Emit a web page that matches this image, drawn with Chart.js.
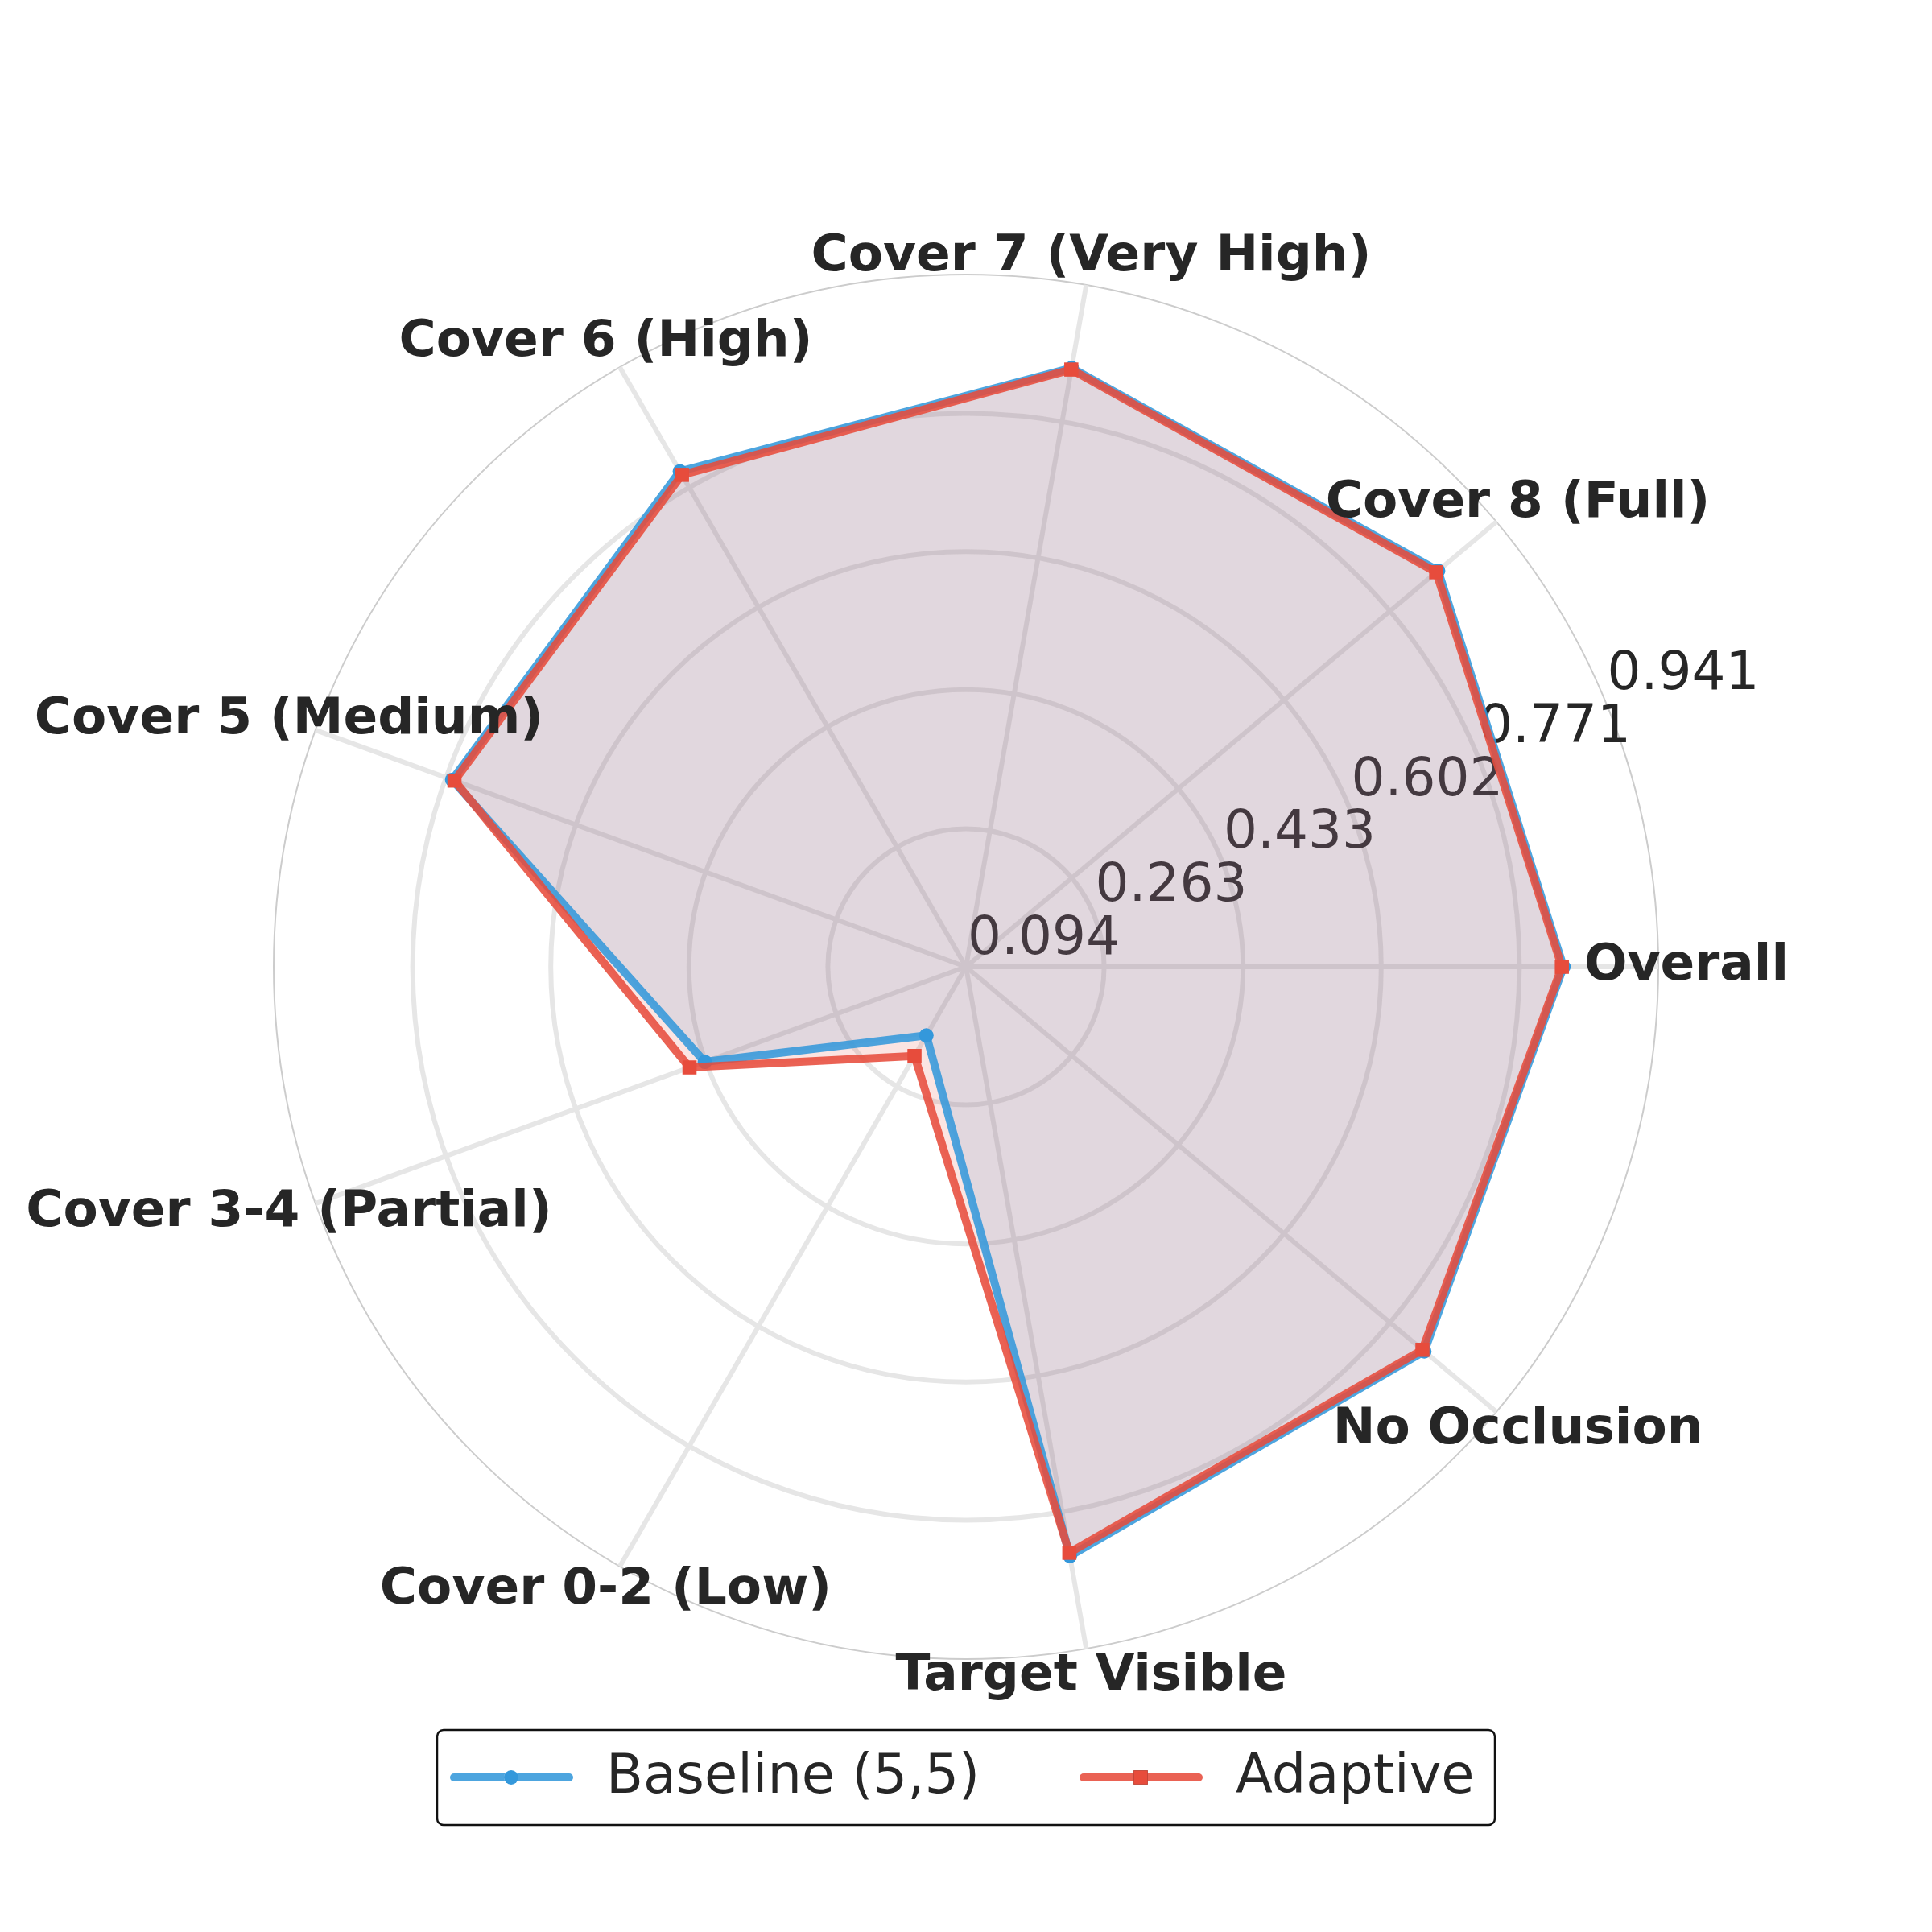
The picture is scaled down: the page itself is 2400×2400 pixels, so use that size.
<!DOCTYPE html>
<html>
<head>
<meta charset="utf-8">
<script src="https://cdn.jsdelivr.net/npm/chart.js@4.4.0/dist/chart.umd.min.js"></script>
<style>
  html, body { margin: 0; padding: 0; background: #fff; }
  canvas { display: block; }
</style>
</head>
<body>
<canvas id="radar" width="2400" height="2400"></canvas>
<script>
// categories listed clockwise starting at the right (3 o'clock)
const categories = ['Overall', 'No Occlusion', 'Target Visible', 'Cover 0-2 (Low)', 'Cover 3-4 (Partial)',
                    'Cover 5 (Medium)', 'Cover 6 (High)', 'Cover 7 (Very High)', 'Cover 8 (Full)'];
const baselineScores = [0.825, 0.826, 0.826, 0.191, 0.434, 0.763, 0.794, 0.838, 0.848];
const adaptiveScores = [0.823, 0.823, 0.822, 0.220, 0.454, 0.760, 0.789, 0.836, 0.845];
const tickValues = [0.094, 0.263, 0.433, 0.602, 0.771, 0.941];
const seriesNames = ['Baseline (5,5)', 'Adaptive'];

const FONT = "'DejaVu Sans', sans-serif";
const TEXT = '#262626';
const GRID = '#e6e6e6';

// radial tick labels along the 22.5 deg direction, drawn before the fills
const rTickLabels = {
    id: 'rTickLabels',
    beforeDatasetsDraw(chart) {
        const scale = chart.scales.r;
        const ctx = chart.ctx;
        const a = 22.5 * Math.PI / 180;
        ctx.save();
        ctx.font = `66px ${FONT}`;
        ctx.fillStyle = TEXT;
        ctx.textAlign = 'left';
        ctx.textBaseline = 'alphabetic';
        tickValues.forEach(v => {
            const d = scale.getDistanceFromCenterForValue(v);
            ctx.fillText(v.toFixed(3), scale.xCenter + d * Math.cos(a) + 2, scale.yCenter - d * Math.sin(a) - 16);
        });
        ctx.restore();
    }
};

// put the tick labels ahead of the filler so the fills tint them
const filler = Chart.registry.plugins.get('filler');
Chart.unregister(filler);
Chart.register(rTickLabels, filler);

// bold category labels sitting just over the outer ring
const categoryLabels = {
    id: 'categoryLabels',
    afterDatasetsDraw(chart) {
        const scale = chart.scales.r;
        const ctx = chart.ctx;
        ctx.save();
        ctx.font = `bold 63px ${FONT}`;
        ctx.fillStyle = TEXT;
        ctx.textAlign = 'center';
        ctx.textBaseline = 'middle';
        categories.forEach((c, i) => {
            const p = scale.getPointPosition(i, scale.drawingArea + 35);
            ctx.fillText(c, p.x, p.y);
        });
        ctx.restore();
    }
};

// matplotlib-like framed legend below the chart
const lineLegend = {
    id: 'lineLegend',
    afterDraw(chart) {
        const ctx = chart.ctx;
        const w = 1314, h = 118;
        const x = chart.width / 2 - w / 2, y = 2149;
        ctx.save();
        ctx.lineWidth = 2.5;
        ctx.strokeStyle = '#111';
        ctx.fillStyle = 'rgba(255,255,255,0.8)';
        ctx.beginPath();
        ctx.roundRect(x, y, w, h, 8);
        ctx.fill();
        ctx.stroke();

        const cy = y + h / 2;
        const starts = [x + 21, x + 803];
        chart.data.datasets.forEach((ds, i) => {
            const x0 = starts[i];
            ctx.lineCap = 'round';
            ctx.lineWidth = ds.borderWidth;
            ctx.strokeStyle = ds.borderColor;
            ctx.beginPath();
            ctx.moveTo(x0, cy);
            ctx.lineTo(x0 + 143, cy);
            ctx.stroke();
            Chart.helpers.drawPoint(ctx, {
                pointStyle: ds.pointStyle, radius: ds.pointRadius, rotation: 0, borderWidth: 0
            }, x0 + 71, cy);
            ctx.fillStyle = ds.pointBackgroundColor;
            ctx.fill();
            ctx.fillStyle = TEXT;
            ctx.font = `67px ${FONT}`;
            ctx.textAlign = 'left';
            ctx.textBaseline = 'middle';
            ctx.fillText(ds.label, x0 + 189, cy + 2);
        });
        ctx.restore();
    }
};

new Chart(document.getElementById('radar'), {
    type: 'radar',
    data: {
        labels: categories,
        datasets: [
            {
                label: seriesNames[0],
                data: baselineScores,
                borderColor: 'rgba(52,152,219,0.88)',
                backgroundColor: 'rgba(52,152,219,0.15)',
                fill: 'start',
                borderWidth: 10,
                pointStyle: 'circle',
                pointRadius: 9,
                pointBackgroundColor: '#3498db',
                pointBorderWidth: 0,
                order: 1
            },
            {
                label: seriesNames[1],
                data: adaptiveScores,
                borderColor: 'rgba(231,76,60,0.88)',
                backgroundColor: 'rgba(231,76,60,0.15)',
                fill: 'start',
                borderWidth: 10,
                pointStyle: 'rect',
                pointRadius: 12.4,
                pointBackgroundColor: '#e74c3c',
                pointBorderWidth: 0,
                order: 0
            }
        ]
    },
    options: {
        responsive: false,
        animation: false,
        devicePixelRatio: 1,
        layout: { padding: { left: 340, right: 340, top: 341, bottom: 339 } },
        elements: { line: { tension: 0, borderJoinStyle: 'round' } },
        plugins: {
            legend: { display: false },
            tooltip: { enabled: false },
            filler: { drawTime: 'beforeDatasetsDraw' }
        },
        scales: {
            r: {
                min: tickValues[0],
                max: tickValues[tickValues.length - 1],
                startAngle: 90,
                afterBuildTicks: s => { s.ticks = tickValues.map(v => ({ value: v })); },
                ticks: { display: false },
                pointLabels: { display: false },
                grid: {
                    circular: true,
                    color: c => c.index === tickValues.length - 1 ? '#cccccc' : GRID,
                    lineWidth: c => c.index === tickValues.length - 1 ? 2 : 6
                },
                angleLines: { color: GRID, lineWidth: 6 }
            }
        }
    },
    plugins: [categoryLabels, lineLegend]
});
</script>
</body>
</html>
